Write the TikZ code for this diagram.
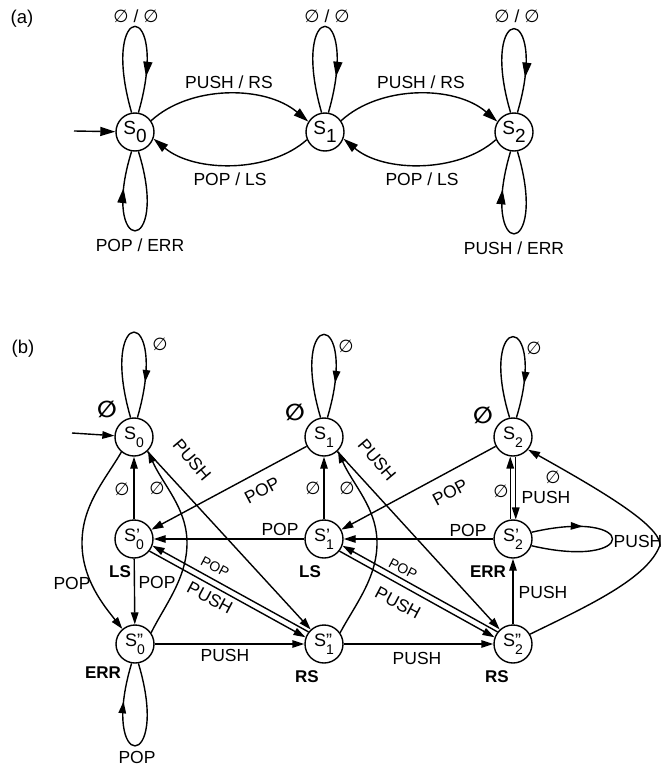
\documentclass[tikz,border=0pt]{standalone}
\usepackage{fontspec}
\setmainfont{Liberation Sans}
\newfontfamily\dvs{DejaVu Sans}
\usetikzlibrary{arrows.meta,decorations.markings}
\newcommand\es{{\dvs ∅}}
\newcommand\sa[1]{S\raisebox{-.45em}{#1}}
\newcommand\sn[2]{S\rlap{#1}\raisebox{-.45em}{\fontsize{14}{14}\selectfont #2}}
\tikzset{
  sta/.style={circle,draw,minimum size=38pt,inner sep=0pt,font=\fontsize{19}{19}\selectfont},
  stb/.style={circle,draw,minimum size=38pt,inner sep=0pt,font=\fontsize{18}{18}\selectfont},
  la/.style={inner sep=0pt,font=\fontsize{17.5}{19}\selectfont},
  lsm/.style={inner sep=0pt,font=\fontsize{14}{16}\selectfont},
  lbd/.style={inner sep=0pt,font=\bfseries\fontsize{17}{19}\selectfont},
  lez/.style={inner sep=0pt,font=\bfseries\fontsize{23}{23}\selectfont},
  lhd/.style={inner sep=0pt,font=\fontsize{18.5}{20}\selectfont},
  arra/.style={-{Triangle[length=15pt,width=9pt]}},
  arrb/.style={-{Triangle[length=12pt,width=7.5pt]}},
  marra/.style={postaction={decorate,decoration={markings,mark=at position #1 with {\arrow{Triangle[length=15pt,width=9pt]}}}}},
  marrb/.style={postaction={decorate,decoration={markings,mark=at position #1 with {\arrow{Triangle[length=12pt,width=7.5pt]}}}}}
}
\begin{document}
\begin{tikzpicture}[x=1pt,y=-1pt,line width=1.4pt]
\useasboundingbox (0,0) rectangle (662,766);
% ---------------- (a)
\node[lhd] (ha) at (22,19) {(a)};
\node[sta] (a0) at (135,132) {\sa{0}};
\node[sta] (a1) at (325,132) {\sa{1}};
\node[sta] (a2) at (514,132) {\sa{2}};
\coordinate (ain) at (74,131);
\draw[arra] (ain) -- (a0);
\draw[arra] (a0.35) .. controls (190,85) and (265,85) .. (a1.148);
\draw[arra] (a1.-157) .. controls (270,173) and (195,173) .. (a0.-20);
\draw[arra] (a1.35) .. controls (380,85) and (455,85) .. (a2.148);
\draw[arra] (a2.-157) .. controls (459,173) and (384,173) .. (a1.-20);
\draw[marra=0.8] (a0.100) .. controls +(-33,-115) and +(33,-115) .. (a0.80);
\draw[marra=0.8] (a1.100) .. controls +(-33,-115) and +(33,-115) .. (a1.80);
\draw[marra=0.8] (a2.100) .. controls +(-33,-112) and +(33,-112) .. (a2.80);
\draw[marra=0.78] (a0.-80) .. controls +(33,106) and +(-33,106) .. (a0.-100);
\draw[marra=0.78] (a2.-80) .. controls +(33,110) and +(-33,110) .. (a2.-100);
\node[la] (la1) at (136,16) {\es\ / \es};
\node[la] (la2) at (327,16) {\es\ / \es};
\node[la] (la3) at (517,16) {\es\ / \es};
\node[la] (la4) at (229,82) {PUSH / RS};
\node[la] (la5) at (421,82) {PUSH / RS};
\node[la] (la6) at (230,179) {POP / LS};
\node[la] (la7) at (422,179) {POP / LS};
\node[la] (la8) at (140,245) {POP / ERR};
\node[la] (la9) at (514,248) {PUSH / ERR};
% ---------------- (b)
\node[lhd] (hb) at (23,349) {(b)};
\node[stb] (b0) at (134,437) {\sn{}{0}};
\node[stb] (b1) at (324,437) {\sn{}{1}};
\node[stb] (b2) at (513,437) {\sn{}{2}};
\node[stb] (c0) at (134,539) {\sn{'}{0}};
\node[stb] (c1) at (324,539) {\sn{'}{1}};
\node[stb] (c2) at (513,539) {\sn{'}{2}};
\node[stb] (d0) at (135,644) {\sn{''}{0}};
\node[stb] (d1) at (324,644) {\sn{''}{1}};
\node[stb] (d2) at (513,644) {\sn{''}{2}};
\coordinate (bin) at (72,433);
\draw[arrb] (bin) -- (b0);
% self loops
\draw[marrb=0.8] (b0.100) .. controls +(-33,-114) and +(33,-114) .. (b0.80);
\draw[marrb=0.8] (b1.100) .. controls +(-33,-111) and +(33,-111) .. (b1.80);
\draw[marrb=0.8] (b2.100) .. controls +(-33,-108) and +(33,-108) .. (b2.80);
\draw[marrb=0.78] (d0.-80) .. controls +(33,110) and +(-33,110) .. (d0.-100);
\draw[marrb=0.3] (c2.20) .. controls +(108,-25) and +(108,25) .. (c2.-20);
% straight
\draw[arrb] (c0) -- (b0);
\draw[arrb] (c1) -- (b1);
\draw[arrb] (c0) -- (d0);
\draw[arrb] (d0) -- (d1);
\draw[arrb] (d1) -- (d2);
\draw[arrb] (d2) -- (c2);
\draw[arrb] (c1) -- (c0);
\draw[arrb] (c2) -- (c1);
\draw[arrb] (b1) -- (c0);
\draw[arrb] (b2) -- (c1);
\draw[arrb] (b0) -- (d1);
\draw[arrb] (b1) -- (d2);
% double pairs
\draw[arrb] (d1.142) -- (c0.-20);
\draw[arrb] (c0.-38) -- (d1.160);
\draw[arrb] (d2.142) -- (c1.-20);
\draw[arrb] (c1.-38) -- (d2.160);
\draw[arrb] (c2.98) -- (b2.-98);
\draw[arrb] (b2.-82) -- (c2.82);
% curves
\draw[arrb] (d0.35) .. controls (165,605) and (187,578) .. (187,543) .. controls (187,508) and (163,485) .. (b0.-45);
\draw[arrb] (d1.35) .. controls (355,605) and (377,578) .. (377,543) .. controls (377,508) and (353,485) .. (b1.-45);
\draw[arrb] (b0.-130) .. controls (105,480) and (82,505) .. (82,543) .. controls (82,580) and (105,607) .. (d0.130);
\draw[arrb] (d2.30) .. controls (590,605) and (648,578) .. (660,545) .. controls (660,525) and (600,490) .. (b2.-40);
% labels
\node[la] (m1) at (160,344) {\es};
\node[la] (m2) at (346,346) {\es};
\node[la] (m3) at (534,348) {\es};
\node[lez] (z0) at (107,409) {\es};
\node[lez] (z1) at (295,412) {\es};
\node[lez] (z2) at (483,415) {\es};
\node[la] (e1) at (122,489) {\es};
\node[la] (e2) at (157,488) {\es};
\node[la] (e3) at (313,488) {\es};
\node[la] (e4) at (347,488) {\es};
\node[la] (e5) at (501,491) {\es};
\node[la] (e6) at (553,477) {\es};
\node[la] (p1) at (546,497) {PUSH};
\node[la] (p2) at (72,583) {POP};
\node[la] (p3) at (157,582) {POP};
\node[la] (p4) at (225,655) {PUSH};
\node[la] (p5) at (417,658) {PUSH};
\node[la,rotate=-50] (p6) at (192,460) {PUSH};
\node[la,rotate=-50] (p7) at (377,460) {PUSH};
\node[la,rotate=28] (p8) at (262,490) {POP};
\node[la,rotate=28] (p9) at (450,492) {POP};
\node[la] (p10) at (280,529) {POP};
\node[la] (p11) at (468,530) {POP};
\node[lsm,rotate=-28] (p12) at (215,567) {POP};
\node[la,rotate=-28] (p13) at (210,598) {PUSH};
\node[lsm,rotate=-28] (p14) at (403,569) {POP};
\node[la,rotate=-28] (p15) at (398,603) {PUSH};
\node[la] (p16) at (638,541) {PUSH};
\node[la] (p17) at (543,592) {PUSH};
\node[la] (p18) at (137,757) {POP};
\node[lbd] (q1) at (120,572) {LS};
\node[lbd] (q2) at (310,572) {LS};
\node[lbd] (q3) at (488,572) {ERR};
\node[lbd] (q4) at (103,673) {ERR};
\node[lbd] (q5) at (307,677) {RS};
\node[lbd] (q6) at (497,677) {RS};
\end{tikzpicture}
\end{document}
